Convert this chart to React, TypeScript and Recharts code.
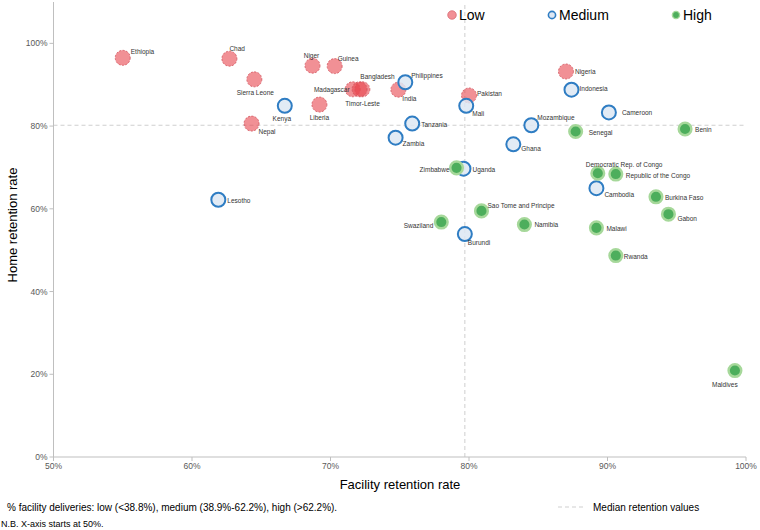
import React from 'react';
import { ScatterChart, Scatter, XAxis, YAxis, ReferenceLine } from 'recharts';

// ---------- data ----------
const lowCountries = ['Ethiopia', 'Chad', 'Sierra Leone', 'Nepal', 'Niger', 'Guinea', 'Liberia', 'Madagascar', 'Bangladesh', 'Timor-Leste', 'India', 'Pakistan', 'Nigeria'];
const lowFacility = [55.0, 62.7, 64.5, 64.3, 68.7, 70.3, 69.2, 71.6, 72.3, 72.1, 74.9, 80.0, 87.0];
const lowHome = [96.5, 96.3, 91.3, 80.6, 94.6, 94.5, 85.2, 88.9, 88.9, 88.9, 88.8, 87.4, 93.2];

const mediumCountries = ['Lesotho', 'Kenya', 'Philippines', 'Mali', 'Tanzania', 'Zambia', 'Uganda', 'Burundi', 'Ghana', 'Mozambique', 'Indonesia', 'Cameroon', 'Cambodia'];
const mediumFacility = [61.9, 66.7, 75.4, 79.8, 75.9, 74.7, 79.6, 79.7, 83.2, 84.5, 87.4, 90.1, 89.2];
const mediumHome = [62.2, 84.9, 90.6, 84.9, 80.6, 77.2, 69.7, 53.9, 75.6, 80.2, 88.8, 83.3, 65.0];

const highCountries = ['Zimbabwe', 'Swaziland', 'Sao Tome and Principe', 'Namibia', 'Senegal', 'Benin', 'Democratic Rep. of Congo', 'Republic of the Congo', 'Burkina Faso', 'Gabon', 'Malawi', 'Rwanda', 'Maldives'];
const highFacility = [79.1, 78.0, 80.9, 84.0, 87.7, 95.6, 89.3, 90.6, 93.5, 94.4, 89.2, 90.6, 99.2];
const highHome = [69.9, 56.8, 59.5, 56.2, 78.7, 79.3, 68.6, 68.4, 62.9, 58.7, 55.4, 48.7, 20.9];

const medianFacility = 79.7;
const medianHome = 80.2;

const xTicks = [50, 60, 70, 80, 90, 100];
const yTicks = [0, 20, 40, 60, 80, 100];

const legendLabels = ['Low', 'Medium', 'High'];

// ---------- label placement (layout only) ----------
type Anchor = 'start' | 'middle' | 'end';
const labelPlacement: Record<string, [number, number, Anchor]> = {
  Ethiopia: [8, -6, 'start'],
  Chad: [0, -10, 'start'],
  'Sierra Leone': [1, 13, 'middle'],
  Nepal: [7, 8, 'start'],
  Niger: [-1, -10, 'middle'],
  Guinea: [3, -7, 'start'],
  Liberia: [0, 13, 'middle'],
  Madagascar: [-3, 0, 'end'],
  Bangladesh: [-2, -13, 'start'],
  'Timor-Leste': [3, 14, 'middle'],
  India: [4, 9, 'start'],
  Pakistan: [8, -2, 'start'],
  Nigeria: [9, 0, 'start'],
  Lesotho: [9, 1, 'start'],
  Kenya: [-3, 13, 'middle'],
  Philippines: [6, -7, 'start'],
  Mali: [6, 8, 'start'],
  Tanzania: [9, 1, 'start'],
  Zambia: [7, 6, 'start'],
  Uganda: [9, 1, 'start'],
  Burundi: [3, 9, 'start'],
  Ghana: [8, 4, 'start'],
  Mozambique: [6, -8, 'start'],
  Indonesia: [8, -1, 'start'],
  Cameroon: [13, 0, 'start'],
  Cambodia: [8, 7, 'start'],
  Zimbabwe: [-7, 2, 'end'],
  Swaziland: [-8, 4, 'end'],
  'Sao Tome and Principe': [6, -5, 'start'],
  Namibia: [10, 0, 'start'],
  Senegal: [13, 1, 'start'],
  Benin: [10, 1, 'start'],
  'Democratic Rep. of Congo': [-12, -9, 'start'],
  'Republic of the Congo': [10, 2, 'start'],
  'Burkina Faso': [9, 1, 'start'],
  Gabon: [9, 5, 'start'],
  Malawi: [10, 1, 'start'],
  Rwanda: [8, 1, 'start'],
  Maldives: [-10, 14, 'middle'],
};

const build = (names: string[], fac: number[], home: number[]) =>
  names.map((name, i) => ({ name, facility: fac[i], home: home[i] }));

const lowData = build(lowCountries, lowFacility, lowHome);
const mediumData = build(mediumCountries, mediumFacility, mediumHome);
const highData = build(highCountries, highFacility, highHome);
const allData = [...lowData, ...mediumData, ...highData];

// ---------- styles ----------
const FONT = '"Liberation Sans", Arial, sans-serif';
const LOW_FILL = '#E8464F';
const MED_STROKE = '#2F7DC3';
const MED_FILL = '#DDE7F3';
const HIGH_FILL = '#4DAE5C';
const HIGH_HALO = '#A6D89A';

const LowShape = (p: any) => (
  <circle cx={p.cx} cy={p.cy} r={7.5} fill={LOW_FILL} fillOpacity={0.6} stroke="#D0505A" strokeWidth={0.8} strokeDasharray="2 1.5" />
);
const MediumShape = (p: any) => (
  <circle cx={p.cx} cy={p.cy} r={7} fill={MED_FILL} fillOpacity={0.85} stroke={MED_STROKE} strokeWidth={2} />
);
const HighShape = (p: any) => (
  <circle cx={p.cx} cy={p.cy} r={6.3} fill={HIGH_FILL} stroke={HIGH_HALO} strokeWidth={2.5} />
);
const LabelShape = (p: any) => {
  const name = p.payload?.name ?? '';
  const [dx, dy, anchor] = labelPlacement[name] ?? [8, 0, 'start'];
  return (
    <text x={p.cx + dx} y={p.cy + dy} dy="0.35em" textAnchor={anchor} fontSize={6.5} fill="#333" fontFamily={FONT}>
      {name}
    </text>
  );
};

export default function App() {
  return (
    <div style={{ position: 'absolute', left: 0, top: 0, width: 760, height: 530, background: '#fff', fontFamily: FONT }}>
      <ScatterChart width={760} height={530} margin={{ top: 2, right: 14, bottom: 43, left: 0 }}>
        <XAxis
          type="number"
          dataKey="facility"
          domain={[50, 100]}
          ticks={xTicks}
          tickFormatter={(v: number) => `${v}%`}
          allowDataOverflow
          height={30}
          stroke="#BFBFBF"
          tickSize={4}
          tick={{ fontSize: 8.5, fill: '#595959', fontFamily: FONT }}
        />
        <YAxis
          type="number"
          dataKey="home"
          domain={[0, 110]}
          ticks={yTicks}
          tickFormatter={(v: number) => `${v}%`}
          allowDataOverflow
          width={53.5}
          stroke="#BFBFBF"
          tickSize={4}
          tick={{ fontSize: 8.5, fill: '#595959', fontFamily: FONT }}
        />
        <ReferenceLine x={medianFacility} stroke="#CFCFCF" strokeDasharray="4 3" />
        <ReferenceLine y={medianHome} stroke="#CFCFCF" strokeDasharray="4 3" />
        <Scatter name="Low" data={lowData} shape={LowShape} isAnimationActive={false} />
        <Scatter name="Medium" data={mediumData} shape={MediumShape} isAnimationActive={false} />
        <Scatter name="High" data={highData} shape={HighShape} isAnimationActive={false} />
        <Scatter name="labels" data={allData} shape={LabelShape} isAnimationActive={false} />
      </ScatterChart>
      <svg width={760} height={530} style={{ position: 'absolute', left: 0, top: 0, pointerEvents: 'none' }}>
        {/* legend */}
        <circle cx={452} cy={15} r={4.3} fill={LOW_FILL} fillOpacity={0.6} stroke="#D0505A" strokeWidth={0.6} />
        <text x={459} y={20} fontSize={14} fontFamily={FONT} fill="#000">{legendLabels[0]}</text>
        <circle cx={552} cy={15} r={3.6} fill={MED_FILL} stroke={MED_STROKE} strokeWidth={1.6} />
        <text x={559} y={20} fontSize={14} fontFamily={FONT} fill="#000">{legendLabels[1]}</text>
        <circle cx={676} cy={15} r={3.6} fill={HIGH_FILL} stroke={HIGH_HALO} strokeWidth={1.4} />
        <text x={683} y={20} fontSize={14} fontFamily={FONT} fill="#000">{legendLabels[2]}</text>
        {/* axis titles */}
        <text x={400} y={489} textAnchor="middle" fontSize={13} fontFamily={FONT} fill="#000">Facility retention rate</text>
        <text transform="translate(17,225) rotate(-90)" textAnchor="middle" fontSize={13} fontFamily={FONT} fill="#000">Home retention rate</text>
        {/* footnotes */}
        <text x={7} y={511} fontSize={10} fontFamily={FONT} fill="#000">% facility deliveries: low (&lt;38.8%), medium (38.9%-62.2%), high (&gt;62.2%).</text>
        <text x={1} y={527} fontSize={9} fontFamily={FONT} fill="#000">N.B. X-axis starts at 50%.</text>
        <line x1={558} y1={507} x2={584} y2={507} stroke="#CFCFCF" strokeDasharray="4 3" />
        <text x={593} y={511} fontSize={10} fontFamily={FONT} fill="#000">Median retention values</text>
      </svg>
    </div>
  );
}
